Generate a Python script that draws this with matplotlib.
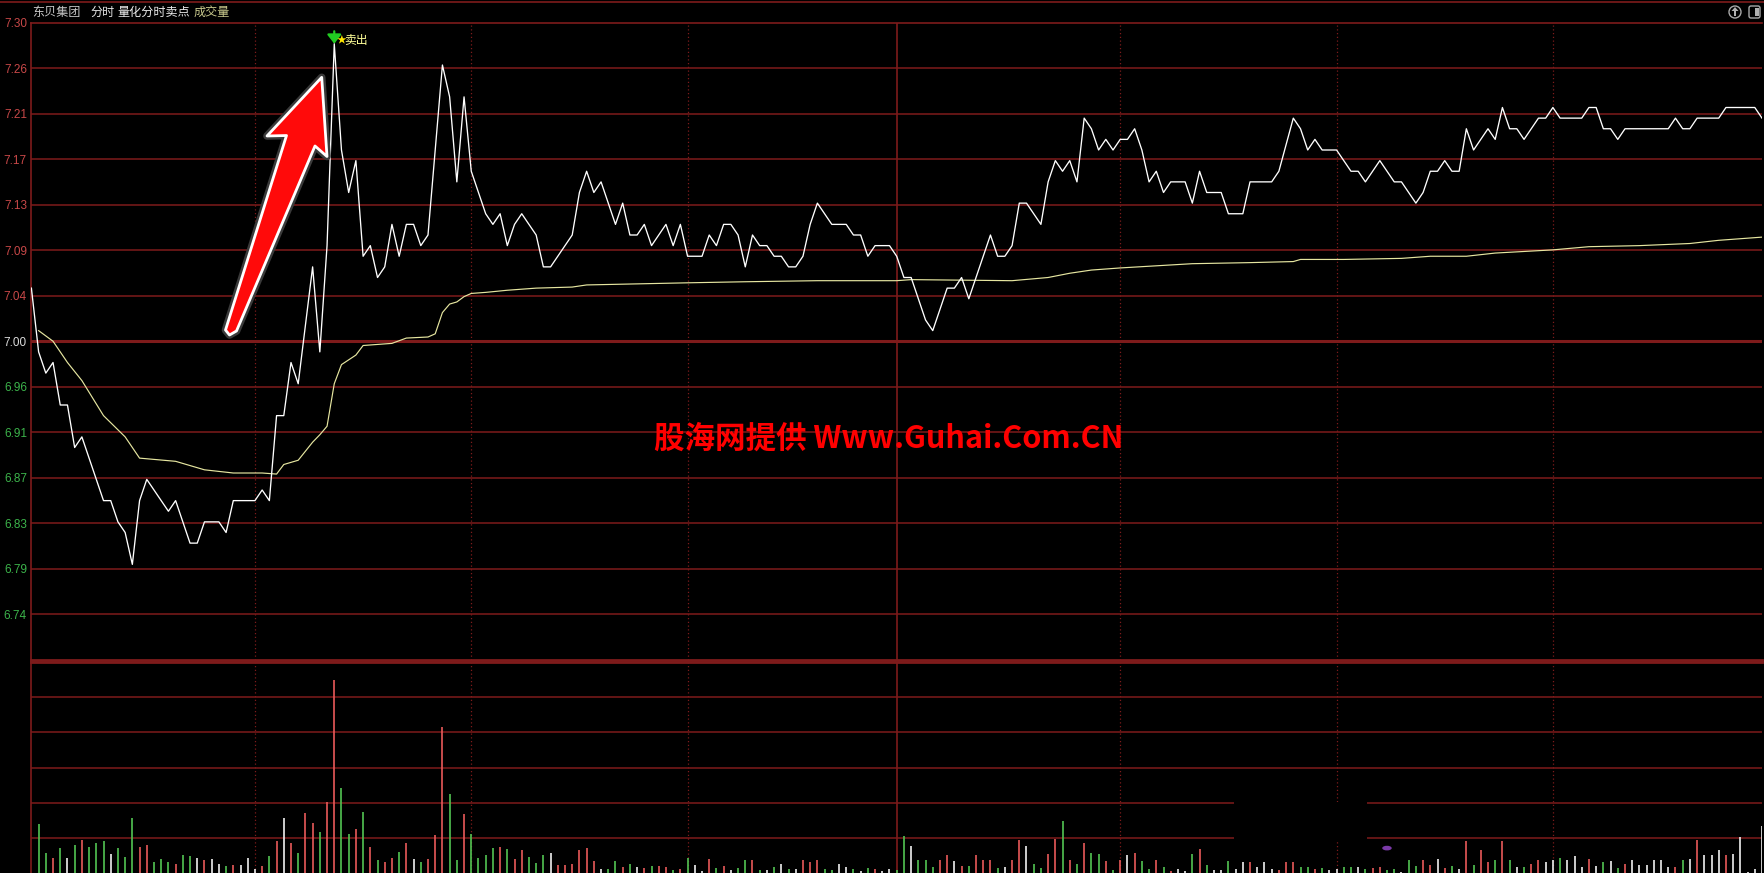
import matplotlib
matplotlib.use("Agg")
import matplotlib.pyplot as plt
import matplotlib.patheffects as pe
import matplotlib.transforms as mtransforms
from matplotlib.patches import Polygon, Rectangle, Circle, FancyBboxPatch, Ellipse
from matplotlib.lines import Line2D

CJK = ["Noto Sans CJK SC", "DejaVu Sans"]

# 分时价格 (minute index 0..240, price)
price_min = [0, 1, 2, 3, 4, 5, 6, 7, 10, 11, 12, 13, 14, 15, 16, 19, 20, 22, 23, 24,
             26, 27, 28, 31, 32, 33, 34, 35, 36, 37, 39, 40, 41, 42, 43, 44, 45, 46, 47, 48,
             49, 50, 51, 52, 53, 54, 55, 57, 58, 59, 60, 61, 62, 63, 64, 65, 66, 67, 68, 69,
             70, 71, 72, 75, 76, 77, 78, 79, 80, 81, 82, 83, 84, 85, 86, 88, 89, 90, 91, 93,
             94, 95, 96, 97, 98, 99, 100, 101, 102, 103, 104, 105, 106, 107, 108, 109, 110, 111, 113, 114,
             115, 116, 117, 119, 120, 121, 122, 124, 125, 127, 128, 129, 130, 133, 134, 135, 136, 137, 138, 140,
             141, 142, 143, 144, 145, 146, 147, 148, 149, 150, 151, 152, 153, 154, 155, 156, 157, 158, 160, 161,
             162, 163, 165, 166, 168, 169, 172, 173, 175, 176, 177, 178, 179, 181, 183, 184, 185, 187, 189, 190,
             192, 193, 194, 195, 196, 197, 198, 199, 200, 202, 203, 204, 205, 206, 207, 209, 210, 211, 212, 215,
             216, 217, 218, 219, 220, 221, 227, 228, 229, 230, 231, 234, 235, 239, 240]
price_val = [7.05, 6.99, 6.97, 6.98, 6.94, 6.94, 6.90, 6.91, 6.85, 6.85, 6.83, 6.82, 6.79, 6.85, 6.87, 6.84, 6.85, 6.81, 6.81, 6.83,
             6.83, 6.82, 6.85, 6.85, 6.86, 6.85, 6.93, 6.93, 6.98, 6.96, 7.07, 6.99, 7.09, 7.28, 7.18, 7.14, 7.17, 7.08, 7.09, 7.06,
             7.07, 7.11, 7.08, 7.11, 7.11, 7.09, 7.10, 7.26, 7.23, 7.15, 7.23, 7.16, 7.14, 7.12, 7.11, 7.12, 7.09, 7.11, 7.12, 7.11,
             7.10, 7.07, 7.07, 7.10, 7.14, 7.16, 7.14, 7.15, 7.13, 7.11, 7.13, 7.10, 7.10, 7.11, 7.09, 7.11, 7.09, 7.11, 7.08, 7.08,
             7.10, 7.09, 7.11, 7.11, 7.10, 7.07, 7.10, 7.09, 7.09, 7.08, 7.08, 7.07, 7.07, 7.08, 7.11, 7.13, 7.12, 7.11, 7.11, 7.10,
             7.10, 7.08, 7.09, 7.09, 7.08, 7.06, 7.06, 7.02, 7.01, 7.05, 7.05, 7.06, 7.04, 7.10, 7.08, 7.08, 7.09, 7.13, 7.13, 7.11,
             7.15, 7.17, 7.16, 7.17, 7.15, 7.21, 7.20, 7.18, 7.19, 7.18, 7.19, 7.19, 7.20, 7.18, 7.15, 7.16, 7.14, 7.15, 7.15, 7.13,
             7.16, 7.14, 7.14, 7.12, 7.12, 7.15, 7.15, 7.16, 7.21, 7.20, 7.18, 7.19, 7.18, 7.18, 7.16, 7.16, 7.15, 7.17, 7.15, 7.15,
             7.13, 7.14, 7.16, 7.16, 7.17, 7.16, 7.16, 7.20, 7.18, 7.20, 7.19, 7.22, 7.20, 7.20, 7.19, 7.21, 7.21, 7.22, 7.21, 7.21,
             7.22, 7.22, 7.20, 7.20, 7.19, 7.20, 7.20, 7.21, 7.20, 7.20, 7.21, 7.21, 7.22, 7.22, 7.21]

# 均价线
avg_min = [1, 3, 5, 7, 10, 13, 14, 15, 20, 24, 28, 32, 34, 35, 37, 39, 40, 41, 42, 43,
           45, 46, 48, 50, 52, 55, 56, 57, 58, 59, 60, 61, 63, 66, 70, 75, 77, 84, 91, 99,
           109, 120, 122, 136, 141, 144, 147, 151, 156, 161, 169, 175, 176, 182, 190, 194, 199, 203, 211, 216,
           223, 230, 234, 240]
avg_val = [7.010, 7.000, 6.980, 6.963, 6.930, 6.910, 6.900, 6.890, 6.887, 6.879, 6.876, 6.876, 6.875, 6.884, 6.888, 6.905, 6.912, 6.920, 6.960, 6.978,
           6.987, 6.996, 6.997, 6.998, 7.003, 7.004, 7.007, 7.027, 7.035, 7.037, 7.042, 7.045, 7.046, 7.048, 7.050, 7.051, 7.053, 7.054, 7.055, 7.056,
           7.057, 7.057, 7.058, 7.057, 7.060, 7.064, 7.067, 7.069, 7.071, 7.073, 7.074, 7.075, 7.077, 7.077, 7.078, 7.080, 7.080, 7.083, 7.086, 7.089,
           7.090, 7.092, 7.095, 7.098]

# 成交量 (minute 1..240), r = up, g = down, w = flat
vol_min = list(range(1, 241))
vol_val = [138, 57, 43, 72, 43, 81, 95, 74, 84, 92,
           53, 70, 46, 157, 74, 81, 32, 41, 32, 27,
           52, 49, 43, 38, 41, 27, 21, 24, 24, 43,
           12, 21, 47, 90, 157, 86, 57, 171, 143, 117,
           202, 550, 242, 112, 126, 174, 74, 36, 32, 43,
           60, 86, 40, 32, 41, 107, 415, 225, 38, 169,
           111, 43, 50, 70, 74, 67, 40, 64, 46, 29,
           50, 57, 24, 24, 27, 64, 72, 35, 12, 12,
           33, 18, 27, 16, 13, 21, 21, 16, 8, 10,
           43, 24, 6, 41, 13, 21, 8, 13, 38, 36,
           8, 8, 18, 27, 10, 10, 38, 30, 36, 10,
           8, 27, 16, 10, 5, 13, 10, 5, 10, 8,
           105, 78, 36, 36, 18, 36, 50, 33, 21, 21,
           50, 36, 36, 13, 18, 36, 95, 78, 27, 13,
           55, 98, 149, 36, 27, 84, 58, 53, 33, 8,
           36, 50, 58, 33, 10, 38, 18, 5, 10, 5,
           55, 69, 24, 8, 8, 33, 10, 30, 30, 16,
           30, 10, 8, 30, 30, 18, 18, 10, 13, 8,
           10, 16, 18, 16, 10, 13, 18, 8, 10, 3,
           38, 21, 36, 24, 41, 13, 21, 10, 90, 24,
           64, 30, 38, 90, 38, 16, 16, 27, 36, 30,
           36, 44, 36, 47, 16, 41, 21, 30, 33, 13,
           27, 36, 24, 24, 36, 38, 16, 16, 38, 41,
           95, 50, 50, 64, 50, 53, 102, 3, 10, 133]
vol_dir = list("ggrgwgrggg" "wgggrrgggr" "ggwrwwgrww" "wrgrwrgrrg"
               "rrggrgrgrr" "grwgrrrggr" "ggggrgrrgg" "gwrrrrrrwg"
               "grgwrgrrgr" "gwwrgrwggr" "gwgwgwrrrg" "gwwgwgrwwg"
               "gwgggrrwrg" "rrrgwrrwgg" "rrgrgrggrg" "rwrggrgrww"
               "grgwwgwwrw" "wwrrrggrgw" "wggwgrrggw" "ggrrwrgwrg"
               "rrgrgwgrrw" "wgwwwrwgwg" "rwwwwwwrgw" "rwwwrwwwww")

pre_close = 7.00
price_ticks = [pre_close + k * 0.3 / 7 for k in range(-7, 8)]
sell_min, sell_price = 42, 7.28

GRID = "#7e1b1b"
BAR_COLORS = {"r": "#e85a5a", "g": "#52c452", "w": "#f0f0f0"}

W, H = 1764, 873
fig = plt.figure(figsize=(W / 100, H / 100), dpi=100, facecolor="black")
left, width = 31.4 / W, 1730.6 / W
ax = fig.add_axes([left, 213 / H, width, 637.5 / H], facecolor="black")
axv = fig.add_axes([left, 0, width, 211 / H], facecolor="black")

# price panel
ax.set_xlim(0, 240)
ax.set_ylim(price_ticks[0], price_ticks[-1])
for t in price_ticks[1:-1]:
    lw = 2.2 if abs(t - pre_close) < 1e-6 else 1.1
    ax.axhline(t, color=GRID, lw=lw, zorder=1)
ax.set_yticks(price_ticks)
ax.set_yticklabels(["" if t < 6.71 else "%.2f" % t for t in price_ticks],
                   fontfamily="Liberation Sans", fontsize=8.5)
for t, lab in zip(price_ticks, ax.get_yticklabels()):
    if t > pre_close + 1e-6:
        lab.set_color("#c84848")
    elif t < pre_close - 1e-6:
        lab.set_color("#3cb44b")
    else:
        lab.set_color("#dcdcdc")
ax.tick_params(axis="y", length=0, pad=3.2)
ax.set_xticks([])

# volume panel
axv.set_xlim(0, 240)
axv.set_ylim(0, 600)
for v in [100, 200, 300, 400, 500]:
    axv.axhline(v, color=GRID, lw=1.1, zorder=1)
axv.set_xticks([])
axv.set_yticks([])

for a, top_lw, bot_lw in [(ax, 1.2, 2.0), (axv, 2.0, 0)]:
    a.spines["left"].set_color(GRID)
    a.spines["left"].set_linewidth(1.2)
    a.spines["top"].set_color(GRID)
    a.spines["top"].set_linewidth(top_lw)
    a.spines["bottom"].set_color(GRID)
    a.spines["bottom"].set_linewidth(bot_lw)
    a.spines["right"].set_visible(False)
    for m in [31, 61, 91, 151, 181, 211]:
        a.axvline(m, color=GRID, lw=0.9, ls=(0, (1, 2)), zorder=1)
    a.axvline(120, color=GRID, lw=1.2, zorder=1)

# black patch covering part of the volume grid, plus a small purple smudge
axv.add_patch(Rectangle((0.695, 0.156), 0.077, 0.18, transform=axv.transAxes,
                        facecolor="black", edgecolor="none", zorder=2))
axv.add_patch(Ellipse((0.7833, 0.118), 0.0055, 0.022, transform=axv.transAxes,
                      facecolor="#7a3aa8", edgecolor="none", zorder=2))

axv.vlines(vol_min, 0, vol_val, colors=[BAR_COLORS[c] for c in vol_dir], lw=1.2, zorder=3)

ax.plot(avg_min, avg_val, color="#e6e6a0", lw=0.85, zorder=3)
ax.plot(price_min, price_val, color="white", lw=0.95, zorder=4)

# 卖出 signal
ax.annotate("", xy=(sell_min, sell_price), xytext=(0, 9), textcoords="offset points",
            arrowprops=dict(arrowstyle="-|>,head_length=0.45,head_width=0.35",
                            color="#22cc22", lw=1.6, shrinkA=0, shrinkB=0, mutation_scale=12),
            zorder=6)
ax.annotate("★", xy=(sell_min, sell_price), xytext=(1.5, 2.5), textcoords="offset points",
            ha="left", va="center", color="#ffe600", fontsize=7, family=CJK, zorder=6)
ax.annotate("卖出", xy=(sell_min, sell_price), xytext=(7.5, 2.5), textcoords="offset points",
            ha="left", va="center", color="#ffff99", fontsize=8.5, family=CJK, zorder=6)

# big red arrow
arrow_pts = [(0.16775, 0.9140), (0.13614, 0.8220), (0.14741, 0.8227), (0.11216, 0.5176),
             (0.11447, 0.5098), (0.11851, 0.5161), (0.16387, 0.8063), (0.17081, 0.7898)]
ax.add_patch(Polygon(arrow_pts, closed=True, transform=ax.transAxes, facecolor="#ff0a0a",
                     edgecolor="white", lw=2.0, joinstyle="round", zorder=5,
                     path_effects=[pe.Stroke(linewidth=5.5, foreground="#3a3a3a"), pe.Normal()]))

# header
fig.add_artist(Line2D([0, 1], [1 - 1.7 / H] * 2, transform=fig.transFigure, color=GRID, lw=1.2))
hy = 1 - 12.7 / H
fig.text(32 / W, hy, "东贝集团", color="#c8c8c8", fontsize=8.7, family=CJK, va="center")
fig.text(90 / W, hy, "分时", color="#e6e6e6", fontsize=8.7, family=CJK, va="center")
fig.text(117 / W, hy, "量化分时卖点", color="#ececec", fontsize=8.7, family=CJK, va="center")
fig.text(194 / W, hy, "成交量", color="#c8c88c", fontsize=8.7, family=CJK, va="center")

# top-right buttons
ident = mtransforms.IdentityTransform()
fig.add_artist(Circle((1735, H - 12), 6, transform=ident, facecolor="none",
                      edgecolor="#a8a8a8", lw=1.0))
fig.add_artist(Polygon([(1731.5, H - 11), (1738.5, H - 11), (1735, H - 7)], closed=True,
                       transform=ident, facecolor="#b0b0b0", edgecolor="none"))
fig.add_artist(Rectangle((1734, H - 16), 2, 5, transform=ident, facecolor="#b0b0b0", edgecolor="none"))
fig.add_artist(FancyBboxPatch((1749, H - 18), 11, 12, boxstyle="round,pad=0,rounding_size=2",
                              transform=ident, facecolor="none", edgecolor="#a8a8a8", lw=1.0))
fig.add_artist(Rectangle((1755, H - 16), 3.5, 8, transform=ident, facecolor="#b0b0b0", edgecolor="none"))

# watermark
fig.text(889 / W, 1 - 439 / H, "股海网提供 Www.Guhai.Com.CN", color="#ff0000",
         fontsize=22, fontweight="bold", family=CJK, ha="center", va="center", zorder=10)

fig.savefig("out.png", dpi=100, facecolor="black")
